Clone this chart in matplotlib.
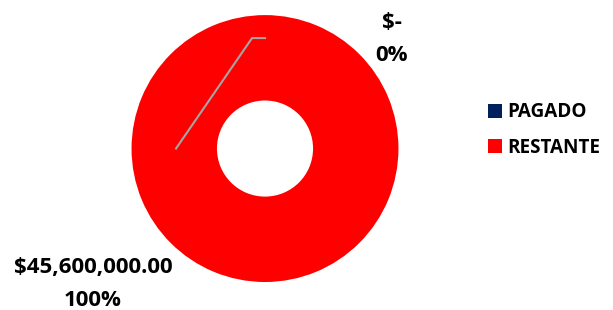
import matplotlib
matplotlib.use("Agg")
import matplotlib.pyplot as plt
from matplotlib.patches import Patch

# data
labels = ["PAGADO", "RESTANTE"]
values = [0, 45600000]
colors = ["#002060", "#FF0000"]
amount_labels = ["$-", "$45,600,000.00"]
pct_labels = ["0%", "100%"]

plt.rcParams["font.family"] = ["Open Sans", "DejaVu Sans"]

fig = plt.figure(figsize=(6.13, 3.10), dpi=100)
ax = fig.add_axes([0.2145, 0.0903, 0.4356, 0.861])
ax.pie(values, colors=colors, startangle=90, counterclock=False,
       radius=1, wedgeprops=dict(width=0.64, edgecolor="none"))
ax.set_xlim(-1, 1)
ax.set_ylim(-1, 1)
ax.set_aspect("equal")
ax.axis("off")

# leader line for the zero slice
ax.plot([-0.667, -0.097, 0.0], [0.0, 0.828, 0.828], color="#A5A5A5", lw=1.5)

txt = dict(fontsize=16, fontweight="bold", color="black", ha="center", va="center")
fig.text(392 / 613, 1 - 22 / 310, amount_labels[0], **txt)
fig.text(392 / 613, 1 - 55 / 310, pct_labels[0], **txt)
fig.text(93 / 613, 1 - 268 / 310, amount_labels[1], **txt)
fig.text(93 / 613, 1 - 300 / 310, pct_labels[1], **txt)

handles = [Patch(facecolor=c, edgecolor="none") for c in colors]
fig.legend(handles, labels, loc="center left", bbox_to_anchor=(488 / 613, 1 - 130 / 310),
           frameon=False, prop=dict(size=13.6, weight="bold"), borderpad=0, borderaxespad=0,
           handlelength=0.72, handleheight=0.72, handletextpad=0.3, labelspacing=0.8)

fig.savefig("out.png", dpi=100)
